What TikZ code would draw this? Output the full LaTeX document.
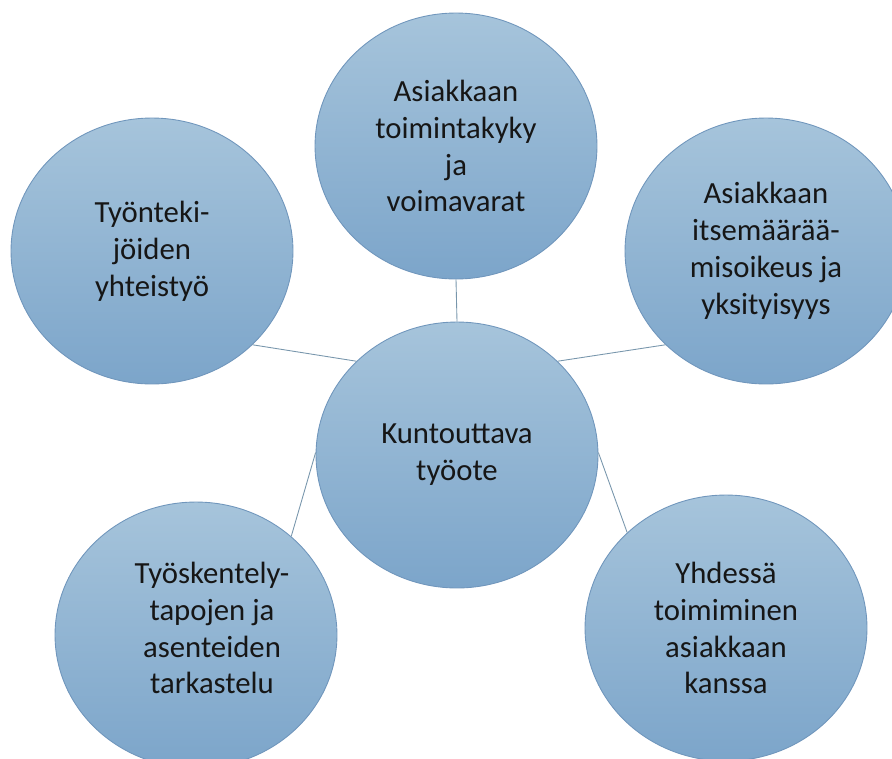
\documentclass[tikz,border=0pt]{standalone}
\usepackage{fontspec}
\setmainfont{Carlito}
\usepackage{xcolor}
\usetikzlibrary{shapes.geometric}
\definecolor{bubtop}{RGB}{166,196,219}
\definecolor{bubbot}{RGB}{124,165,202}
\definecolor{bubline}{RGB}{112,150,188}
\definecolor{linkc}{RGB}{120,150,172}
\definecolor{txtc}{RGB}{22,22,22}

\begin{document}
\begin{tikzpicture}[
  x=0.02cm,y=-0.02cm,
  font=\fontsize{17.5}{21}\selectfont,
  bubble/.style={ellipse,draw=bubline,line width=0.5pt,top color=bubtop,bottom color=bubbot,
    minimum width=5.64cm,minimum height=5.32cm,inner sep=0pt,align=center,text=txtc},
  txt/.style={align=center,text=txtc,inner sep=0pt},
  link/.style={draw=linkc,line width=0.5pt}
]
\useasboundingbox (0,0) rectangle (892,758);
\node[bubble] (c) at (457,455) {Kuntouttava\\työote};
\node[bubble] (t) at (456,146) {Asiakkaan\\toimintakyky\\ja\\voimavarat};
\node[bubble] (tl) at (152,251) {Työnteki-\\jöiden\\yhteistyö};
\node[bubble] (tr) at (766,251) {Asiakkaan\\itsemäärää-\\misoikeus ja\\yksityisyys};
\node[bubble] (bl) at (196,635) {};
\node[txt] (blt) at (212,628) {Työskentely-\\tapojen ja\\asenteiden\\tarkastelu};
\node[bubble] (br) at (726,628) {Yhdessä\\toimiminen\\asiakkaan\\kanssa};
\draw[link] (t.270) -- (c.90);
\draw[link] (tl.-43) -- (c.137);
\draw[link] (tr.-137) -- (c.43);
\draw[link] (bl.46) -- (c.179);
\draw[link] (br.136) -- (c.1);
\end{tikzpicture}
\end{document}
